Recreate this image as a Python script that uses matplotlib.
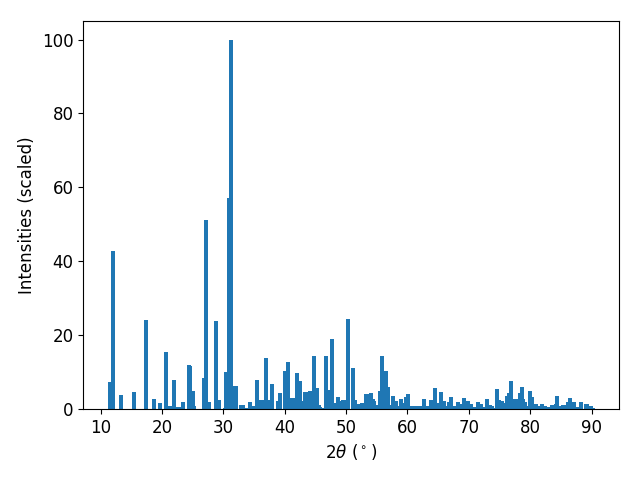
import matplotlib
matplotlib.use("Agg")
import matplotlib.pyplot as plt

# peak positions (2theta, degrees) and scaled intensities
two_theta = [11.54, 12.03, 13.33, 15.45, 17.40, 18.71, 19.69, 20.66, 21.17, 21.97,
             22.63, 23.43, 24.41, 24.58, 24.92, 25.08, 26.86, 27.18, 27.52, 28.81,
             29.15, 30.28, 30.44, 30.93, 31.26, 31.92, 32.88, 33.06, 33.55, 34.35,
             34.69, 35.49, 35.83, 36.00, 36.16, 36.96, 37.14, 37.94, 38.91, 39.24,
             40.05, 40.54, 41.21, 42.01, 42.35, 42.51, 42.84, 43.33, 44.13, 44.78,
             45.12, 45.45, 45.61, 45.93, 46.73, 46.91, 47.71, 47.89, 48.69, 48.87,
             49.03, 49.52, 50.32, 51.13, 51.31, 52.13, 52.61, 53.27, 54.07, 54.24,
             54.41, 54.73, 55.53, 55.86, 56.36, 56.69, 56.85, 57.65, 57.99, 58.15,
             58.95, 58.97, 59.77, 60.09, 60.75, 61.40, 61.90, 62.70, 63.04, 63.84,
             64.49, 64.67, 65.47, 65.81, 65.97, 66.77, 67.10, 67.44, 68.24, 68.42,
             69.22, 69.72, 70.21, 70.70, 71.50, 71.84, 72.17, 72.97, 73.31, 73.63,
             73.80, 74.60, 74.93, 75.42, 75.58, 76.38, 76.55, 76.88, 77.54, 78.34,
             78.67, 78.68, 79.01, 79.17, 79.97, 80.15, 80.80, 81.13, 81.93, 82.27,
             82.76, 83.56, 84.21, 84.37, 84.55, 84.71, 85.36, 86.16, 86.49, 86.99,
             87.15, 87.48, 88.28, 89.11, 89.76, 90.09]

intensity = [7.3, 42.7, 3.8, 4.6, 24.0, 2.7, 1.6, 15.4, 0.8, 7.9,
             0.5, 1.9, 11.9, 11.6, 4.9, 0.8, 8.4, 51.2, 1.9, 23.8,
             2.4, 0.3, 10.0, 57.2, 100.0, 6.2, 1.1, 1.1, 0.3, 1.9,
             0.8, 7.9, 0.4, 0.8, 2.4, 13.8, 2.4, 6.8, 2.2, 4.3,
             10.3, 12.7, 3.0, 9.7, 7.5, 1.6, 2.2, 4.6, 4.9, 14.3,
             5.7, 1.1, 0.5, 0.3, 14.3, 5.1, 19.0, 1.6, 3.2, 1.1,
             2.2, 2.4, 24.4, 11.0, 2.4, 1.4, 1.6, 4.0, 4.3, 2.7,
             2.2, 1.1, 4.9, 14.4, 10.3, 6.0, 1.1, 3.5, 2.2, 0.8,
             2.7, 1.6, 3.3, 4.1, 0.8, 0.8, 0.8, 2.7, 0.8, 2.4,
             5.7, 1.6, 4.6, 2.2, 0.8, 1.9, 3.3, 0.8, 1.9, 1.4,
             3.0, 2.2, 1.4, 0.5, 1.9, 1.4, 0.5, 2.7, 1.1, 0.8,
             0.3, 5.4, 2.4, 2.2, 1.6, 3.5, 4.3, 7.6, 2.7, 4.3,
             6.0, 2.7, 1.9, 0.8, 4.9, 3.3, 1.4, 0.8, 1.4, 0.8,
             0.5, 1.1, 1.4, 3.5, 0.3, 0.8, 1.1, 1.9, 3.0, 1.9,
             0.8, 0.5, 1.9, 1.4, 0.8, 0.3]

fig, ax = plt.subplots(figsize=(6.4, 4.8), dpi=100)
ax.bar(two_theta, intensity, width=0.8, color="#1f77b4")
ax.set_xlabel(r"2$\theta$ ($^\circ$)", fontsize=12)
ax.set_ylabel("Intensities (scaled)", fontsize=12)
ax.tick_params(labelsize=12)
fig.subplots_adjust(left=0.13, right=0.967, bottom=0.148, top=0.956)
plt.savefig("out.png")
